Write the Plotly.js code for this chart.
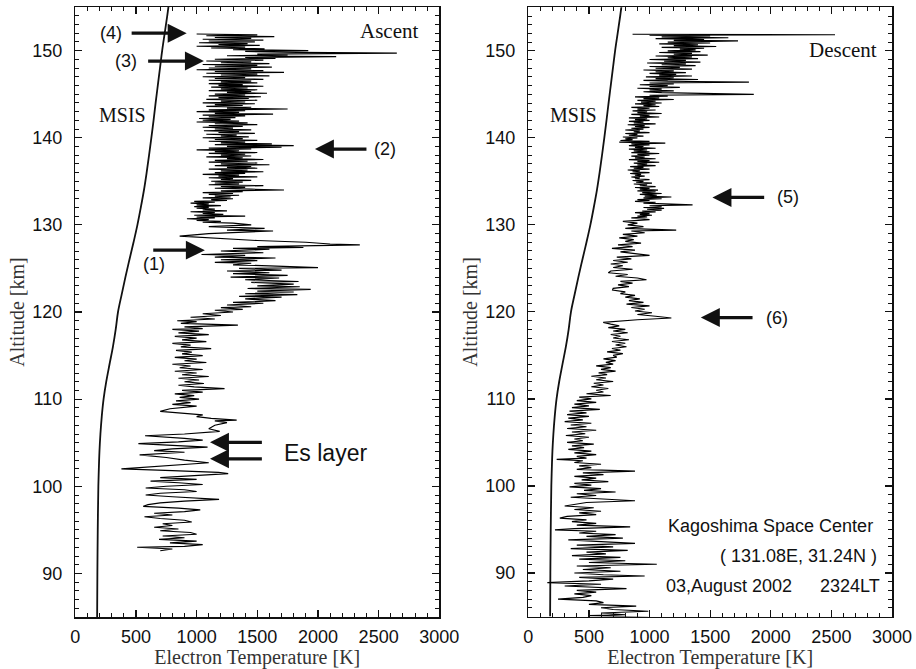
<!DOCTYPE html>
<html>
<head>
<meta charset="utf-8">
<script src="https://cdn.plot.ly/plotly-3.0.1.min.js"></script>
<style>html,body{margin:0;padding:0;background:#fff;}#chart{width:916px;height:669px;}</style>
</head>
<body>
<div id="chart"></div>
<script>
// ---------- MSIS model profile ----------
const msisAlt = [85, 90, 95, 100, 102, 104, 106, 108, 110, 112, 114, 116, 118, 120, 122, 124, 126, 128, 130, 132, 134, 136, 138, 140, 142, 144, 146, 148, 150, 152, 154, 155.5];
const msisTe  = [180, 182, 185, 190, 194, 199, 207, 218, 233, 255, 282, 310, 333, 352, 382, 413, 446, 480, 512, 540, 566, 588, 608, 627, 645, 662, 680, 698, 716, 737, 758, 772];

// ---------- Ascent profile ----------
const ascentAlt = [
151.9,151.8,151.7,151.6,151.5,151.4,151.3,151.2,151.1,151.0,
150.9,150.8,150.7,150.6,150.5,150.4,150.3,150.2,150.1,150.0,
149.9,149.8,149.7,149.6,149.5,149.4,149.3,149.2,149.1,149.0,
148.9,148.8,148.7,148.6,148.5,148.4,148.3,148.2,148.1,148.0,
147.9,147.8,147.7,147.6,147.5,147.4,147.3,147.2,147.1,147.0,
146.9,146.8,146.7,146.6,146.5,146.4,146.3,146.2,146.1,146.0,
145.9,145.8,145.7,145.6,145.5,145.4,145.3,145.2,145.1,145.0,
144.9,144.8,144.7,144.6,144.5,144.4,144.3,144.2,144.1,144.0,
143.9,143.8,143.7,143.6,143.5,143.4,143.3,143.2,143.1,143.0,
142.9,142.8,142.7,142.6,142.5,142.4,142.3,142.2,142.1,142.0,
141.9,141.8,141.7,141.6,141.5,141.4,141.3,141.2,141.1,141.0,
140.9,140.8,140.7,140.6,140.5,140.4,140.3,140.2,140.1,140.0,
139.9,139.8,139.7,139.6,139.5,139.4,139.3,139.2,139.1,139.0,
138.9,138.8,138.7,138.6,138.5,138.4,138.3,138.2,138.1,138.0,
137.9,137.8,137.7,137.6,137.5,137.4,137.3,137.2,137.1,137.0,
136.9,136.8,136.7,136.6,136.5,136.4,136.3,136.2,136.1,136.0,
135.9,135.8,135.7,135.6,135.5,135.4,135.3,135.2,135.1,135.0,
134.9,134.8,134.7,134.6,134.5,134.4,134.3,134.2,134.1,134.0,
133.9,133.8,133.7,133.6,133.5,133.4,133.3,133.2,133.1,133.0,
132.9,132.8,132.7,132.6,132.5,132.4,132.3,132.2,132.1,132.0,
131.9,131.8,131.7,131.6,131.5,131.4,131.3,131.2,131.1,131.0,
130.9,130.8,130.7,130.6,130.5,130.4,130.3,130.2,130.0,129.8,
129.6,129.4,129.3,129.0,128.7,128.4,128.2,128.0,127.8,127.7,
127.6,127.5,127.4,127.3,127.2,127.0,126.8,126.6,126.5,126.3,
126.2,126.0,125.9,125.7,125.6,125.4,125.3,125.1,125.0,124.8,
124.7,124.5,124.4,124.2,124.0,123.9,123.7,123.5,123.4,123.2,
123.0,122.9,122.7,122.6,122.4,122.3,122.1,122.0,121.8,121.7,
121.5,121.3,121.1,121.0,120.8,120.6,120.5,120.3,120.2,120.0,
119.8,119.6,119.4,119.2,119.0,118.9,118.7,118.5,118.3,118.1,
118.0,117.8,117.6,117.4,117.2,117.0,116.8,116.6,116.4,116.2,
116.0,115.8,115.6,115.4,115.2,115.0,114.8,114.6,114.4,114.2,
114.0,113.8,113.6,113.4,113.2,113.0,112.8,112.6,112.4,112.2,
112.0,111.8,111.6,111.4,111.2,111.0,110.8,110.6,110.4,110.2,
110.0,109.8,109.6,109.4,109.2,108.9,108.6,108.4,108.2,108.0,
107.8,107.6,107.5,107.3,107.0,106.6,106.3,106.0,105.8,105.5,
105.3,105.1,104.9,104.7,104.5,104.3,104.1,103.9,103.6,103.3,
103.0,102.7,102.4,102.0,101.8,101.6,101.45,101.2,101.0,100.8,
100.6,100.4,100.2,100.0,99.8,99.6,99.4,99.2,99.0,98.8,
98.5,98.3,98.1,97.9,97.7,97.5,97.3,97.1,96.9,96.7,
96.5,96.3,96.1,95.9,95.7,95.5,95.3,95.1,94.9,94.7,
94.5,94.3,94.1,93.9,93.7,93.5,93.3,93.1,93.0,92.8,
92.6];
const ascentTe = [
1000,1500,1080,1640,1150,1450,1050,1550,1100,1480,
1020,1420,1180,1520,1000,1400,1120,1560,1300,1920,
1400,1830,2650,1500,1750,1250,2150,1400,1650,1150,
1550,1080,1450,1200,1600,1050,1500,1150,1620,1100,
1450,1000,1550,1150,1720,1080,1500,1200,1600,1050,
1400,1150,1550,1100,1450,1200,1500,1100,1380,1180,
1550,1120,1420,1200,1500,1100,1450,1250,1580,1150,
1400,1100,1530,1180,1430,1080,1500,1200,1400,1050,
1480,1150,1380,1080,1450,1250,1750,1100,1400,1000,
1350,1150,1630,1050,1400,1100,1320,1020,1280,1050,
1350,1000,1420,1150,1500,1100,1380,1050,1300,1150,
1450,1060,1350,1180,1480,1080,1330,1200,1430,1050,
1380,1150,1500,1100,1400,1200,1620,1150,1800,1250,
1700,1100,1450,1000,1350,1150,1500,1100,1400,1200,
1450,1080,1380,1250,1550,1150,1420,1100,1500,1200,
1600,1150,1450,1250,1500,1100,1420,1200,1550,1150,
1400,1050,1350,1180,1500,1100,1300,1200,1450,1120,
1380,1150,1350,1100,1550,1200,1400,1150,1450,1720,
1200,1380,1050,1300,1100,1350,1150,1280,1050,1300,
1120,1250,980,1150,950,1100,1000,1200,980,1100,
1000,1150,1050,1250,950,1150,1050,1220,980,1400,
1000,1150,920,1100,1000,1200,1050,1300,1450,1100,
1560,1250,1630,1100,860,1200,1500,1900,2100,2345,
1700,1500,1880,1300,1600,1200,1550,1040,1400,1150,
1650,1200,1500,1150,1450,1300,1600,2000,1350,1700,
1250,1600,1300,1750,1280,1680,1400,1840,1450,1800,
1500,1850,1420,1940,1500,1800,1400,1830,1350,1700,
1400,1650,1300,1550,1250,1450,1200,1380,1150,1300,
1050,1200,950,1150,840,1000,870,1340,900,1050,
800,1020,850,1100,820,1000,880,1080,800,950,
870,1120,830,960,880,1050,820,1000,900,1080,
800,950,860,1050,820,1000,880,1100,850,1020,
900,1060,850,980,1230,880,1050,820,980,860,
1020,830,950,800,1000,780,700,900,1050,1000,
1120,1330,1150,1250,1150,1100,1190,900,575,900,
1050,850,520,800,1090,800,650,900,530,750,
900,1100,800,380,800,1180,1260,900,700,1000,
620,850,1050,750,580,900,1000,700,580,800,
1185,900,700,600,560,850,1030,900,650,800,
570,700,900,960,720,800,650,850,700,950,
1000,720,900,690,1000,780,1050,900,510,800,
700];

// ---------- Descent profile ----------
const descentAlt = [
151.9,151.85,151.8,151.7,151.6,151.5,151.4,151.3,151.2,151.15,
151.0,150.9,150.8,150.7,150.6,150.5,150.4,150.3,150.2,150.1,
150.0,149.9,149.8,149.7,149.6,149.5,149.4,149.3,149.2,149.1,
149.0,148.9,148.8,148.7,148.6,148.5,148.4,148.3,148.2,148.1,
148.0,147.9,147.8,147.7,147.6,147.5,147.4,147.3,147.2,147.1,
147.0,146.9,146.8,146.7,146.6,146.5,146.4,146.3,146.2,146.1,
146.0,145.9,145.8,145.7,145.6,145.5,145.4,145.3,145.2,145.0,
144.9,144.8,144.7,144.6,144.5,144.4,144.3,144.2,144.1,144.0,
143.9,143.8,143.7,143.6,143.5,143.4,143.3,143.2,143.1,143.0,
142.9,142.8,142.7,142.6,142.5,142.4,142.3,142.2,142.1,142.0,
141.9,141.8,141.7,141.6,141.5,141.4,141.3,141.2,141.1,141.0,
140.9,140.8,140.7,140.6,140.5,140.4,140.3,140.2,140.1,140.0,
139.9,139.8,139.7,139.6,139.5,139.4,139.3,139.2,139.1,139.0,
138.9,138.8,138.7,138.6,138.5,138.4,138.3,138.2,138.1,138.0,
137.9,137.8,137.7,137.6,137.5,137.4,137.3,137.2,137.1,137.0,
136.9,136.8,136.7,136.6,136.5,136.4,136.3,136.2,136.1,136.0,
135.9,135.8,135.7,135.6,135.5,135.4,135.3,135.2,135.1,135.0,
134.9,134.8,134.7,134.6,134.5,134.4,134.3,134.2,134.1,134.0,
133.9,133.8,133.7,133.6,133.5,133.4,133.3,133.2,133.1,133.0,
132.9,132.8,132.7,132.6,132.5,132.3,132.2,132.1,132.0,131.9,
131.8,131.7,131.6,131.5,131.4,131.3,131.2,131.1,131.0,130.9,
130.8,130.6,130.4,130.2,130.0,129.8,129.6,129.4,129.3,129.1,
128.9,128.7,128.5,128.3,128.1,127.9,127.7,127.5,127.3,127.1,
126.9,126.7,126.5,126.3,126.1,125.9,125.7,125.5,125.3,125.1,
124.9,124.7,124.5,124.3,124.1,123.9,123.7,123.5,123.3,123.1,
122.9,122.7,122.5,122.3,122.1,121.9,121.7,121.5,121.3,121.1,
120.9,120.7,120.5,120.3,120.1,119.9,119.7,119.5,119.3,119.1,
118.9,118.8,118.6,118.4,118.2,118.0,117.8,117.6,117.4,117.2,
117.0,116.8,116.6,116.4,116.2,116.0,115.8,115.6,115.4,115.2,
115.0,114.8,114.6,114.4,114.2,114.0,113.8,113.6,113.4,113.2,
113.0,112.8,112.6,112.4,112.2,112.0,111.8,111.6,111.4,111.2,
111.0,110.8,110.6,110.4,110.2,110.0,109.8,109.6,109.4,109.2,
109.0,108.8,108.6,108.4,108.2,108.0,107.8,107.6,107.4,107.2,
107.0,106.8,106.6,106.4,106.2,106.0,105.8,105.6,105.4,105.2,
105.0,104.8,104.6,104.4,104.2,104.0,103.8,103.6,103.4,103.2,
103.05,102.9,102.7,102.5,102.3,102.1,101.9,101.7,101.5,101.3,
101.1,100.9,100.7,100.5,100.3,100.1,99.9,99.7,99.5,99.3,
99.1,98.9,98.7,98.5,98.3,98.1,97.9,97.7,97.5,97.3,
97.1,96.9,96.7,96.5,96.3,96.1,95.9,95.7,95.5,95.3,
95.1,94.95,94.8,94.6,94.4,94.2,94.0,93.8,93.6,93.4,
93.2,93.0,92.8,92.6,92.4,92.2,92.0,91.8,91.6,91.4,
91.2,91.0,90.8,90.6,90.4,90.2,90.0,89.8,89.65,89.5,
89.3,89.1,88.9,88.7,88.5,88.3,88.2,88.0,87.8,87.6,
87.4,87.2,87.0,86.8,86.6,86.4,86.2,86.0,85.8,85.6,
85.4,85.2,85.1,84.9];
const descentTe = [
860,2530,1000,1500,1100,1650,1050,1450,1200,1730,
1150,1500,1080,1400,1200,1550,1100,1450,1250,1380,
1150,1420,1080,1350,1200,1480,1050,1350,1150,1400,
1000,1300,1120,1420,980,1300,1100,1380,1000,1250,
1050,1350,950,1200,1050,1300,1000,1220,1080,1350,
970,1200,1050,1400,950,1150,1820,1000,1200,920,
1150,1000,1250,900,1100,1000,1200,950,1100,1860,
1000,1150,880,1080,950,1200,900,1050,930,1100,
880,1050,950,1080,850,1000,900,1050,860,980,
900,1100,850,1000,920,1080,830,980,880,1000,
830,950,870,1050,820,960,880,1000,850,950,
800,920,870,1000,800,900,830,950,780,900,
800,860,760,1000,750,1130,850,1000,830,950,
880,1050,830,980,870,1000,850,1080,900,1000,
850,960,880,1050,830,1000,900,1080,870,980,
900,1050,840,950,870,1000,820,920,860,1000,
840,930,880,960,850,920,880,1000,860,950,
890,1020,870,980,920,1050,880,1000,920,1070,
900,1050,940,1100,920,1060,960,1180,950,1100,
900,1000,880,1050,950,1355,1000,1100,950,1120,
980,1100,940,1050,880,1000,920,1020,900,980,
850,1000,780,900,820,950,800,1220,850,960,
780,900,750,870,800,930,740,860,690,880,
760,900,1000,730,850,700,820,680,780,700,
860,680,660,820,720,900,975,760,860,740,
830,700,695,800,760,880,800,920,830,950,
810,1000,850,960,880,1020,900,1050,1180,900,
700,618,680,750,660,800,700,820,680,760,
700,830,690,800,720,810,690,760,650,780,
700,730,620,720,640,700,560,680,600,720,
580,650,520,640,560,700,540,620,520,660,
560,620,480,680,420,520,400,560,380,500,
360,590,340,480,320,500,330,450,300,520,
350,480,320,560,360,470,310,500,380,450,
320,540,360,460,330,520,380,560,400,480,
234,450,380,600,420,520,400,880,450,620,
380,560,440,660,380,520,340,600,460,720,
400,560,350,620,880,480,400,300,540,380,
600,420,560,320,260,480,360,560,400,840,
380,220,560,420,720,480,780,330,600,880,
400,700,350,820,480,640,360,760,420,800,
500,1060,400,680,450,760,380,620,960,420,
700,500,157,600,300,650,810,400,560,380,
520,450,245,560,620,500,890,600,700,990,
600,800,500,990];

// ---------- axis ticks ----------
const tempTicks = [0, 500, 1000, 1500, 2000, 2500, 3000];
const altTicks = [90, 100, 110, 120, 130, 140, 150];

const INK = '#111';
const SANS = 'Liberation Sans, Arial, sans-serif';
const SERIF = 'Liberation Serif, Times New Roman, serif';

const traces = [
  {x: msisTe, y: msisAlt, xaxis: 'x', yaxis: 'y', mode: 'lines', line: {color: INK, width: 1.8, shape: 'spline'}, name: 'MSIS'},
  {x: ascentTe, y: ascentAlt, xaxis: 'x', yaxis: 'y', mode: 'lines', line: {color: '#000', width: 1.15}, name: 'Ascent'},
  {x: msisTe, y: msisAlt, xaxis: 'x2', yaxis: 'y2', mode: 'lines', line: {color: INK, width: 1.8, shape: 'spline'}, name: 'MSIS'},
  {x: descentTe, y: descentAlt, xaxis: 'x2', yaxis: 'y2', mode: 'lines', line: {color: '#000', width: 1.15}, name: 'Descent'}
];

function xAxis(domain, anchor) {
  return {
    domain: domain, anchor: anchor, range: [0, 3000], tickvals: tempTicks,
    ticks: 'inside', ticklen: 7, tickwidth: 1.2, tickcolor: INK,
    minor: {dtick: 100, tick0: 0, ticks: 'inside', ticklen: 4, tickwidth: 1, tickcolor: INK, showgrid: false},
    showline: true, linecolor: INK, linewidth: 1.5, mirror: 'allticks',
    showgrid: false, zeroline: false, ticklabelstandoff: 3,
    tickfont: {family: SANS, size: 18, color: '#111'},
    title: {text: 'Electron Temperature [K]', font: {family: SERIF, size: 20, color: '#333'}, standoff: 4}
  };
}
function yAxis(domain, anchor) {
  return {
    domain: domain, anchor: anchor, range: [85, 155], tickvals: altTicks,
    ticks: 'inside', ticklen: 7, tickwidth: 1.2, tickcolor: INK,
    minor: {dtick: 1, tick0: 0, ticks: 'inside', ticklen: 4, tickwidth: 1, tickcolor: INK, showgrid: false},
    showline: true, linecolor: INK, linewidth: 1.5, mirror: 'allticks',
    showgrid: false, zeroline: false, ticklabelstandoff: 8,
    tickfont: {family: SANS, size: 18, color: '#111'},
    title: {text: 'Altitude [km]', font: {family: SERIF, size: 20, color: '#333'}, standoff: 2}
  };
}

function arrow(xr, yr, headX, tailX, alt) {
  return {xref: xr, yref: yr, axref: xr, ayref: yr, x: headX, y: alt, ax: tailX, ay: alt,
          text: '', showarrow: true, arrowhead: 2, arrowsize: 1.15, arrowwidth: 3.3, arrowcolor: '#111', standoff: 0, startstandoff: 0};
}
function label(xr, yr, x, y, text, font, size, anchor) {
  return {xref: xr, yref: yr, x: x, y: y, text: text, showarrow: false, xanchor: anchor || 'center', yanchor: 'middle',
          font: {family: font, size: size, color: '#111'}};
}

const annotations = [
  // left panel
  arrow('x', 'y', 918, 452, 152.0),
  arrow('x', 'y', 1060, 588, 148.8),
  arrow('x', 'y', 1975, 2412, 138.7),
  arrow('x', 'y', 1068, 630, 127.1),
  arrow('x', 'y', 1110, 1550, 105.05),
  arrow('x', 'y', 1110, 1550, 103.15),
  label('x', 'y', 297, 152.0, '(4)', SANS, 18),
  label('x', 'y', 418, 148.8, '(3)', SANS, 18),
  label('x', 'y', 2552, 138.7, '(2)', SANS, 18),
  label('x', 'y', 648, 125.5, '(1)', SANS, 18),
  label('x', 'y', 1700, 103.85, 'Es layer', SANS, 23, 'left'),
  label('x', 'y', 2585, 152.2, 'Ascent', SERIF, 21),
  label('x', 'y', 389, 142.6, 'MSIS', SERIF, 20),
  // right panel
  arrow('x2', 'y2', 1519, 1958, 133.15),
  arrow('x2', 'y2', 1423, 1862, 119.35),
  label('x2', 'y2', 2144, 133.15, '(5)', SANS, 18),
  label('x2', 'y2', 2055, 119.35, '(6)', SANS, 18),
  label('x2', 'y2', 2597, 150.1, 'Descent', SERIF, 21),
  label('x2', 'y2', 372, 142.6, 'MSIS', SERIF, 20),
  label('x2', 'y2', 2856, 95.4, 'Kagoshima Space Center', SANS, 18, 'right'),
  label('x2', 'y2', 2890, 91.9, '( 131.08E, 31.24N )', SANS, 18, 'right'),
  label('x2', 'y2', 1118, 88.5, '03,August 2002', SANS, 18, 'left'),
  label('x2', 'y2', 2920, 88.5, '2324LT', SANS, 18, 'right')
];

const layout = {
  width: 916, height: 669,
  margin: {l: 0, r: 0, t: 0, b: 0},
  paper_bgcolor: '#fff', plot_bgcolor: '#fff',
  showlegend: false,
  xaxis: xAxis([75.3 / 916, 439.3 / 916], 'y'),
  yaxis: yAxis([1 - 617 / 669, 1 - 7 / 669], 'x'),
  xaxis2: xAxis([528.3 / 916, 892 / 916], 'y2'),
  yaxis2: yAxis([1 - 616.5 / 669, 1 - 7.3 / 669], 'x2'),
  annotations: annotations
};

Plotly.newPlot('chart', traces, layout, {displayModeBar: false, staticPlot: true});
</script>
</body>
</html>
